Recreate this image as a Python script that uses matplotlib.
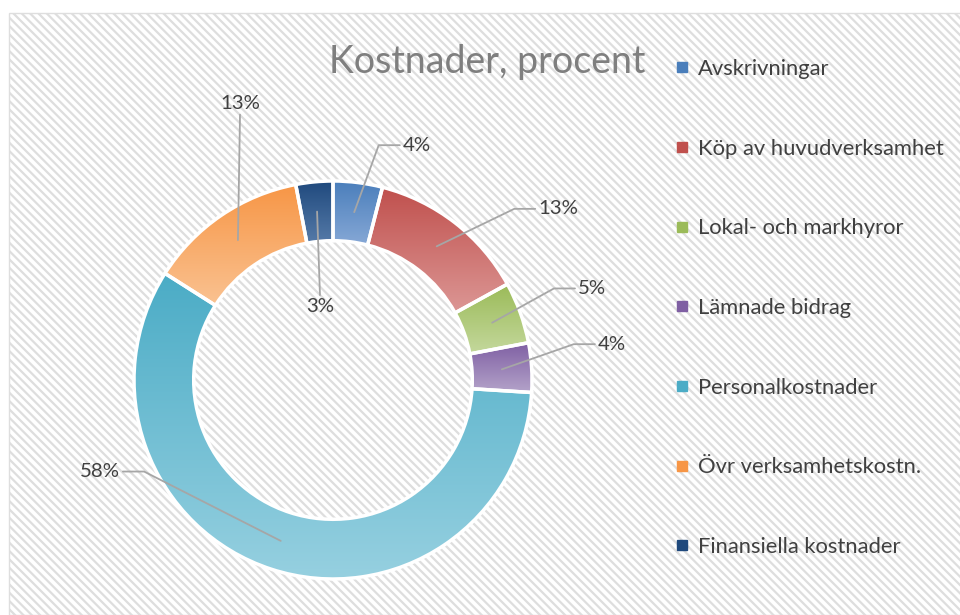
import matplotlib
matplotlib.use('Agg')
import matplotlib.pyplot as plt
import numpy as np
from matplotlib.patches import Rectangle
from matplotlib.lines import Line2D
from matplotlib.colors import to_rgb

plt.rcParams['font.family'] = ['Lato', 'DejaVu Sans']
plt.rcParams['hatch.linewidth'] = 1.6

categories = ['Avskrivningar', 'Köp av huvudverksamhet', 'Lokal- och markhyror',
              'Lämnade bidrag', 'Personalkostnader', 'Övr verksamhetskostn.',
              'Finansiella kostnader']
values = [4, 13, 5, 4, 58, 13, 3]
pct_labels = ['4%', '13%', '5%', '4%', '58%', '13%', '3%']

top_colors = ['#4a7ebb', '#c0504d', '#9bbb59', '#7f5fa3', '#4bacc6', '#f79646', '#1f497d']
bottom_colors = ['#86a8d6', '#dc9795', '#c4d89c', '#b3a2c9', '#96d0e0', '#fac291', '#557aa8']

# label positions (in units of the outer radius), the point of the text the leader
# starts at, and whether the leader has a short horizontal elbow
label_pos = [(0.35, 1.18), (1.03, 0.86), (1.23, 0.46), (1.33, 0.18),
             (-1.07, -0.46), (-0.467, 1.39), (-0.065, 0.37)]
label_relpos = [(0.0, 0.5), (0.0, 0.5), (0.0, 0.5), (0.0, 0.5),
                (1.0, 0.5), (0.5, 0.0), (0.5, 1.0)]
label_elbow = [True, True, True, True, True, False, False]

fig = plt.figure(figsize=(9.6, 6.15), dpi=100)

# hatched chart area
bg = Rectangle((9 / 960, 0), 1.0, (615 - 13) / 615, transform=fig.transFigure,
               facecolor='white', edgecolor='#dedede', hatch='\\\\\\\\', linewidth=1.0,
               zorder=-1)
fig.patches.append(bg)

ax = fig.add_axes([0, 0, 1, 1])
ax.set_facecolor('none')
ax.axis('off')

wedges, _ = ax.pie(values, radius=1.0, startangle=90, counterclock=False,
                   colors=top_colors,
                   wedgeprops=dict(width=0.3, edgecolor='white', linewidth=2.5))

# vertical gradient fill for each wedge
for w, c0, c1 in zip(wedges, top_colors, bottom_colors):
    ext = w.get_path().get_extents()
    t = np.linspace(0, 1, 100)[:, None, None]
    grad = (1 - t) * np.array(to_rgb(c0)) + t * np.array(to_rgb(c1))
    im = ax.imshow(grad, extent=[ext.x0, ext.x1, ext.y0, ext.y1], origin='upper',
                   aspect='auto', zorder=1, interpolation='bilinear')
    im.set_clip_path(w)
    w.set_facecolor('none')
    w.set_zorder(2)

# data labels with leader lines
for w, lab, pos, rp, elbow in zip(wedges, pct_labels, label_pos, label_relpos, label_elbow):
    mid = np.deg2rad((w.theta1 + w.theta2) / 2)
    anchor = (0.85 * np.cos(mid), 0.85 * np.sin(mid))
    ha = 'left' if rp[0] == 0.0 else ('right' if rp[0] == 1.0 else 'center')
    if elbow:
        side = 1 if rp[0] == 0.0 else -1
        ex, ey = pos[0] - side * 0.12, pos[1]
        angB = np.degrees(np.arctan2(ey - anchor[1], ex - anchor[0]))
        cstyle = 'angle,angleA=0,angleB=%.1f,rad=0' % angB
    else:
        cstyle = 'arc3'
    ax.annotate(lab, xy=anchor, xytext=pos, ha=ha, va='center',
                fontsize=14.7, color='#404040', zorder=4,
                arrowprops=dict(arrowstyle='-', color='#a6a6a6', lw=1.3,
                                relpos=rp, shrinkA=0, shrinkB=0,
                                connectionstyle=cstyle))

ax.set_xlim(-333 / 199, (960 - 333) / 199)
ax.set_ylim(-(615 - 380) / 199, 380 / 199)

fig.text(487 / 960, 1 - 62 / 615, 'Kostnader, procent', ha='center', va='center',
         fontsize=27, color='#7f7f7f')

handles = [Line2D([], [], marker='s', ls='', markersize=7, color=c) for c in top_colors]
fig.legend(handles, categories, loc='upper left', bbox_to_anchor=(664 / 960, 1 - 48 / 615),
           frameon=False, fontsize=15.8, labelspacing=2.72, handlelength=0.6,
           handletextpad=0.45, borderpad=0, labelcolor='#404040')

fig.savefig('out.png', dpi=100)
